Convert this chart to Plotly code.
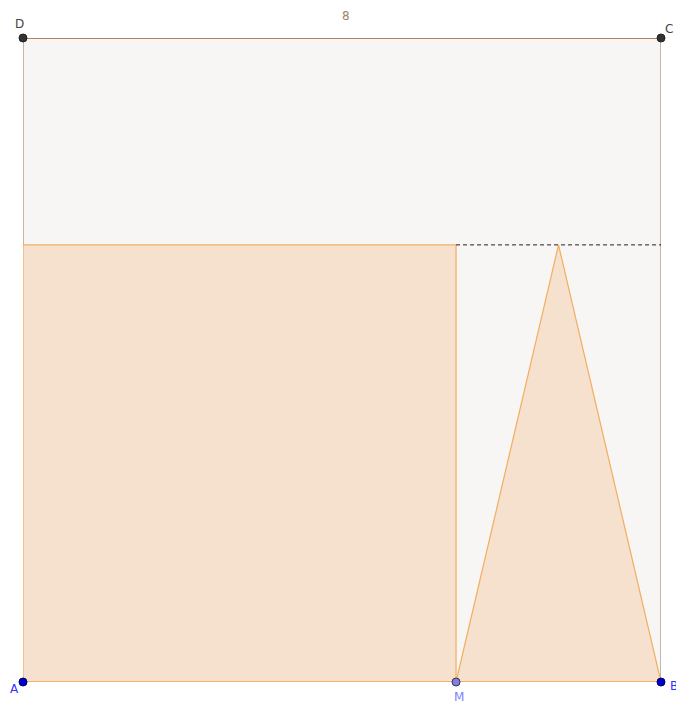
import plotly.graph_objects as go

side = 8.0
m = 5.43  # AM = height of rectangle = height of triangle
square_x = [0, side, side, 0, 0]
square_y = [0, 0, side, side, 0]
rect_x = [0, m, m, 0, 0]
rect_y = [0, 0, m, m, 0]
tri_x = [m, side, (m + side) / 2, m]
tri_y = [0, 0, m, 0]
dash_x = [m, side]
dash_y = [m, m]

pt_names = ["A", "B", "C", "D", "M"]
pt_x = [0, side, side, 0, m]
pt_y = [0, 0, side, side, 0]

fig = go.Figure()
fig.add_trace(go.Scatter(x=square_x, y=square_y, mode="lines", fill="toself",
                         fillcolor="#F8F6F4", line=dict(width=0), hoverinfo="skip"))
fig.add_trace(go.Scatter(x=[0, 0], y=[0, side], mode="lines",
                         line=dict(color="#B8A284", width=1.5), cliponaxis=False))
fig.add_trace(go.Scatter(x=[side, side], y=[0, side], mode="lines",
                         line=dict(color="#B8A284", width=1.5), cliponaxis=False))
fig.add_trace(go.Scatter(x=[0, side], y=[side, side], mode="lines",
                         line=dict(color="#9B5B2A", width=1.5), cliponaxis=False))
fig.add_trace(go.Scatter(x=rect_x, y=rect_y, mode="lines", fill="toself",
                         fillcolor="#F5E1CE", line=dict(color="#F2AE5E", width=1.2),
                         cliponaxis=False))
fig.add_trace(go.Scatter(x=tri_x, y=tri_y, mode="lines", fill="toself",
                         fillcolor="#F5E1CE", line=dict(color="#F2AE5E", width=1.2),
                         cliponaxis=False))
fig.add_trace(go.Scatter(x=[0, side], y=[0, 0], mode="lines",
                         line=dict(color="#F2AE5E", width=1.5), cliponaxis=False))
fig.add_trace(go.Scatter(x=dash_x, y=dash_y, mode="lines",
                         line=dict(color="#222222", width=1, dash="4px,3px"), cliponaxis=False))
pt_colors = ["#0000CC", "#0000CC", "#333333", "#333333", "#8080E0"]
fig.add_trace(go.Scatter(x=pt_x, y=pt_y, mode="markers", cliponaxis=False,
                         marker=dict(size=8, color=pt_colors,
                                     line=dict(color=["#000066", "#000066", "#222222", "#222222", "#333355"], width=1))))

label_style = {
    "A": dict(color="#3333FF", xshift=-9, yshift=-7),
    "B": dict(color="#3333FF", xshift=13, yshift=-4),
    "C": dict(color="#444444", xshift=8, yshift=9),
    "D": dict(color="#444444", xshift=-4, yshift=14),
    "M": dict(color="#8080FF", xshift=3, yshift=-15),
}
for n, x, y in zip(pt_names, pt_x, pt_y):
    st = label_style[n]
    fig.add_annotation(x=x, y=y, text=n, showarrow=False, xshift=st["xshift"], yshift=st["yshift"],
                       font=dict(color=st["color"], size=12, family="DejaVu Sans"))
fig.add_annotation(x=side / 2, y=side, text="8", showarrow=False, xshift=4, yshift=22,
                   font=dict(color="#A08462", size=12, family="DejaVu Sans"))

fig.update_layout(width=676, height=702, margin=dict(l=23, r=15, t=38, b=20),
                  paper_bgcolor="white", plot_bgcolor="white", showlegend=False,
                  xaxis=dict(range=[0, side], visible=False, fixedrange=True),
                  yaxis=dict(range=[0, side], visible=False, fixedrange=True))
fig.write_html("out.html", config={"displayModeBar": False},
               post_script="document.body.style.margin='0';document.body.style.overflow='hidden';")
